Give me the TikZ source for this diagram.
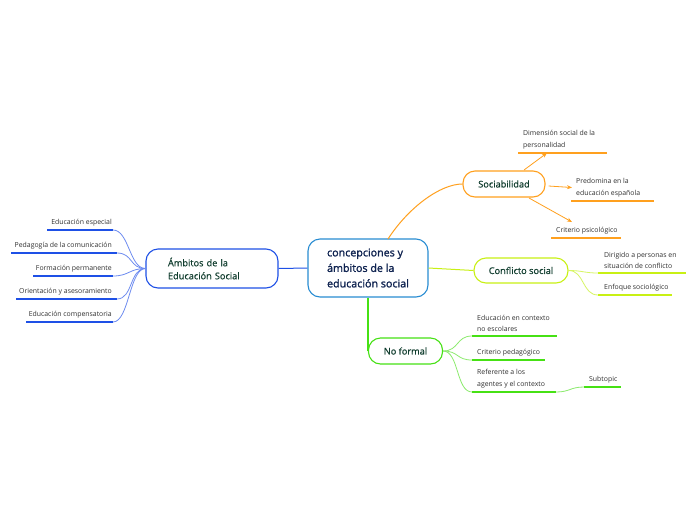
\documentclass[tikz,border=0pt]{standalone}
\usepackage{fontspec}
\setmainfont{Open Sans}
\newfontfamily\medfont[FakeBold=0.6]{Open Sans}
\newfontfamily\semifont[FakeBold=1.6]{Open Sans}
\usetikzlibrary{arrows.meta}
\definecolor{cblue}{RGB}{40,140,210}
\definecolor{ctext}{RGB}{15,35,80}
\definecolor{ablue}{RGB}{30,80,230}
\definecolor{ablueL}{RGB}{110,140,240}
\definecolor{orng}{RGB}{255,160,30}
\definecolor{ygrn}{RGB}{200,240,20}
\definecolor{ygrnL}{RGB}{215,245,100}
\definecolor{grn}{RGB}{70,225,20}
\definecolor{grnL}{RGB}{140,235,110}
\definecolor{ntext}{RGB}{15,60,45}
\definecolor{ltext}{RGB}{50,50,50}
\tikzset{
  topic/.style={draw, fill=white, rounded corners=12pt, line width=1.1pt, text=ntext, font=\medfont\fontsize{9.2}{12}\selectfont, inner sep=0pt, align=center},
  leaftxt/.style={inner sep=0pt, text=ltext, font=\fontsize{6.9}{11.5}\selectfont, align=left},
  leaftxtr/.style={inner sep=0pt, text=ltext, font=\fontsize{6.9}{11.5}\selectfont, align=right},
  uline/.style={line width=1.6pt},
  conn/.style={line width=0.8pt},
}
\begin{document}
\begin{tikzpicture}[x=1pt,y=-1pt]
\useasboundingbox[fill=white] (0,0) rectangle (696,520);

% central
\node[topic, draw=cblue, text=ctext, minimum width=120pt, minimum height=58pt, align=left, font=\semifont\fontsize{10.7}{15.5}\selectfont] (c) at (368,268) {concepciones y\\ámbitos de la\\educación social};

% Ambitos
\node[topic, draw=ablue, minimum width=132pt, minimum height=39pt, text width=88pt, align=left, font=\medfont\fontsize{9.2}{13}\selectfont] (amb) at (212,268.5) {Ámbitos de la\\Educación Social};
\draw[ablue, line width=1pt] (c.west) -- (amb.east);

\coordinate (a1l) at (47,230);  \coordinate (a1r) at (113,230);
\coordinate (a2l) at (11,253);  \coordinate (a2r) at (117,253);
\coordinate (a3l) at (33,276);  \coordinate (a3r) at (113,276);
\coordinate (a4l) at (16,299);  \coordinate (a4r) at (117,299);
\coordinate (a5l) at (26,322);  \coordinate (a5r) at (113,322);
\foreach \i in {1,...,5}{
  \draw[ablue, uline] (a\i l) -- (a\i r);
  \draw[ablueL, conn] (amb.west) .. controls +(-16,0) and +(16,0) .. (a\i r);
}
\node[leaftxtr, anchor=south east] (a1) at ([shift={(-1,-4)}]a1r) {Educación especial};
\node[leaftxtr, anchor=south east] (a2) at ([shift={(-5,-4)}]a2r) {Pedagogía de la comunicación};
\node[leaftxtr, anchor=south east] (a3) at ([shift={(-1,-4)}]a3r) {Formación permanente};
\node[leaftxtr, anchor=south east] (a4) at ([shift={(-5,-4)}]a4r) {Orientación y asesoramiento};
\node[leaftxtr, anchor=south east] (a5) at ([shift={(-1,-4)}]a5r) {Educación compensatoria};

% Sociabilidad
\node[topic, draw=orng, minimum width=82pt, minimum height=26pt] (soc) at (504,184) {Sociabilidad};
\draw[orng, line width=1pt] (388,239) .. controls (408,208) and (440,184) .. (soc.west);
\coordinate (s1l) at (518,153); \coordinate (s1r) at (607,153);
\coordinate (s2l) at (571,201); \coordinate (s2r) at (654,201);
\coordinate (s3l) at (551,238); \coordinate (s3r) at (621,238);
\draw[orng, uline] (s1l) -- (s1r);
\draw[orng, uline] (s2l) -- (s2r);
\draw[orng, uline] (s3l) -- (s3r);
\node[leaftxt, anchor=south west] (s1) at ([shift={(5,-4)}]s1l) {Dimensión social de la\\personalidad};
\node[leaftxt, anchor=south west] (s2) at ([shift={(5,-4)}]s2l) {Predomina en la\\educación española};
\node[leaftxt, anchor=south west] (s3) at ([shift={(5,-4)}]s3l) {Criterio psicológico};
\coordinate (s1t) at (547,153);
\coordinate (s2t) at (572,187.5);
\coordinate (s3t) at (572,222);
\draw[orng, conn, -{Stealth[length=5pt,width=4pt]}] (524,170) -- (s1t);
\draw[orng, conn, -{Stealth[length=5pt,width=4pt]}] (soc.east) ++(3,2) -- (s2t);
\draw[orng, conn, -{Stealth[length=5pt,width=4pt]}] (529,198) -- (s3t);

% Conflicto social
\node[topic, draw=ygrn, minimum width=94pt, minimum height=25pt] (con) at (521,270.5) {Conflicto social};
\draw[ygrn, line width=1pt] (c.east) -- (con.west);
\coordinate (k1l) at (598,273); \coordinate (k1r) at (686,273);
\coordinate (k2l) at (598,295); \coordinate (k2r) at (672,295);
\draw[ygrn, uline] (k1l) -- (k1r);
\draw[ygrn, uline] (k2l) -- (k2r);
\draw[ygrnL, conn] (con.east) .. controls +(14,0) and +(-14,0) .. (k1l);
\draw[ygrnL, conn] (con.east) .. controls +(16,0) and +(-16,0) .. (k2l);
\node[leaftxt, anchor=south west] (k1) at ([shift={(6,-4)}]k1l) {Dirigido a personas en\\situación de conflicto};
\node[leaftxt, anchor=south west] (k2) at ([shift={(6,-4)}]k2l) {Enfoque sociológico};

% No formal
\node[topic, draw=grn, minimum width=74pt, minimum height=26pt] (nf) at (405.5,351) {No formal};
\draw[grn, line width=1.5pt] (c.south -| nf.west) -- (nf.west);
\coordinate (n1l) at (472,336); \coordinate (n1r) at (557,336);
\coordinate (n2l) at (472,360); \coordinate (n2r) at (545,360);
\coordinate (n3l) at (472,392); \coordinate (n3r) at (556,392);
\coordinate (n4l) at (584,387); \coordinate (n4r) at (621,387);
\foreach \i in {1,2,3,4}{\draw[grn, uline] (n\i l) -- (n\i r);}
\foreach \i in {1,2,3}{\draw[grnL, conn] (nf.east) .. controls +(16,0) and +(-16,0) .. (n\i l);}
\draw[grnL, conn] (n3r) .. controls +(14,0) and +(-14,0) .. (n4l);
\node[leaftxt, anchor=south west] (n1) at ([shift={(5,-4)}]n1l) {Educación en contexto\\no escolares};
\node[leaftxt, anchor=south west] (n2) at ([shift={(5,-4)}]n2l) {Criterio pedagógico};
\node[leaftxt, anchor=south west] (n3) at ([shift={(5,-4)}]n3l) {Referente a los\\agentes y el contexto};
\node[leaftxt, anchor=south west] (n4) at ([shift={(5,-4)}]n4l) {Subtopic};
\end{tikzpicture}
\end{document}
